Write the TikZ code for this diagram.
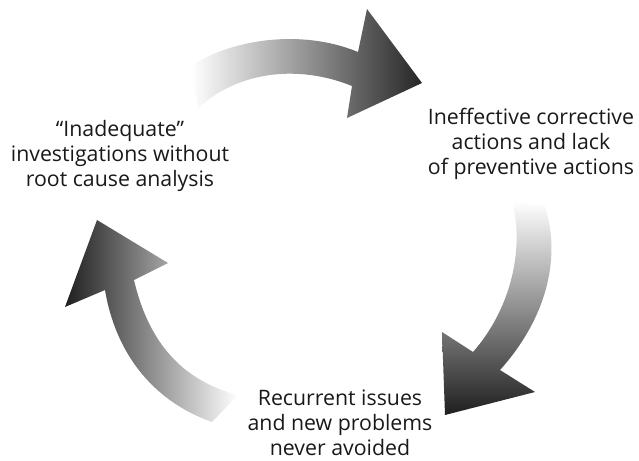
\documentclass[tikz,border=0pt]{standalone}
\usepackage{fontspec}
\setmainfont{Open Sans}

\tikzset{
  cycletext/.style={align=center, inner sep=0pt, font=\fontsize{21.3}{25}\selectfont, text=black!90},
}

\begin{document}
\begin{tikzpicture}[x=1pt, y=-1pt]
          \useasboundingbox (0,0) rectangle (639,460);

          % top arrow
          \shade[left color=white, right color=black!85]
          (191,66) .. controls (230,40) and (300,28) .. (358,52)
          -- (367,9) -- (422,83) -- (347,118) -- (352,86)
          .. controls (300,65) and (240,70) .. (198,108) -- cycle;

          % right arrow
          \shade[top color=white, bottom color=black!88]
          (512,201) -- (545,206)
          .. controls (562,260) and (545,320) .. (500,370)
          -- (535,392) -- (445,415) -- (442,332) -- (473,352)
          .. controls (510,310) and (525,250) .. (512,201);

          % left arrow
          \shade[left color=black!88, right color=white]
          (97,220) -- (168,263) -- (134,280)
          .. controls (148,340) and (180,380) .. (238,395)
          -- (212,422)
          .. controls (150,400) and (115,350) .. (105,290)
          -- (65,307) -- cycle;

          \node[cycletext] (inadequate) at (120,156)
          {“Inadequate”\\investigations without\\root cause analysis};
          \node[cycletext] (ineffective) at (531,144)
          {Ineffective corrective\\actions and lack\\of preventive actions};
          \node[cycletext] (recurrent) at (340,423)
          {Recurrent issues\\and new problems\\never avoided};

        \end{tikzpicture}
\end{document}
